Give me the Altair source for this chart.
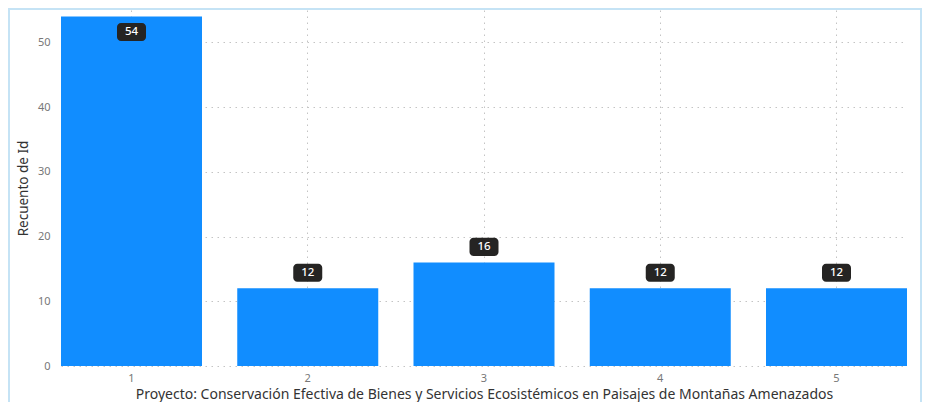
import altair as alt
import pandas as pd

categories = ["1", "2", "3", "4", "5"]
values = [54, 12, 16, 12, 12]

x_title = "Proyecto: Conservación Efectiva de Bienes y Servicios Ecosistémicos en Paisajes de Montañas Amenazados"
y_title = "Recuento de Id"

df = pd.DataFrame({"cat": categories, "v": values})

YMAX = 55
FONT = "Noto Sans"
GRID_DASH = [1.5, 4.5]
GRID_COLOR = "#c4c4c4"

x_enc = alt.X("cat:N", sort=categories, title=x_title,
              scale=alt.Scale(paddingInner=0.2, paddingOuter=0),
              axis=alt.Axis(labelAngle=0, grid=True, gridDash=GRID_DASH, gridColor=GRID_COLOR,
                            domain=False, ticks=False, labelPadding=6, labelColor="#777777",
                            labelFontSize=11, titleFontSize=14, titleFontWeight="normal",
                            titleColor="#333333", titlePadding=4, titleFont=FONT, labelFont=FONT))
y_scale = alt.Scale(domain=[0, YMAX], nice=False)

bars = alt.Chart(df).mark_bar(color="#118DFF").encode(
    x=x_enc,
    y=alt.Y("v:Q", title=y_title, scale=y_scale,
            axis=alt.Axis(values=[0, 10, 20, 30, 40, 50], grid=True, gridDash=GRID_DASH,
                          gridColor=GRID_COLOR, domain=False, ticks=False, labelPadding=11,
                          labelColor="#777777", labelFontSize=11, titleFontSize=13.5,
                          titleFontWeight="normal", titleColor="#333333", titlePadding=7,
                          titleFont=FONT, labelFont=FONT)),
)

lab = alt.Chart(df).transform_calculate(
    inside="datum.v + 4 > " + str(YMAX),
).transform_calculate(
    lo="datum.inside ? datum.v - 3.8 : datum.v + 1.0",
    hi="datum.inside ? datum.v - 1.0 : datum.v + 3.8",
    mid="datum.inside ? datum.v - 2.4 : datum.v + 2.4",
)

boxes = lab.mark_bar(color="#252423", width=29, cornerRadius=4).encode(
    x=alt.X("cat:N", sort=categories),
    y=alt.Y("lo:Q", scale=y_scale),
    y2="hi:Q",
)

texts = lab.mark_text(color="white", fontSize=11.5, font=FONT, fontWeight=500,
                      baseline="middle").encode(
    x=alt.X("cat:N", sort=categories),
    y=alt.Y("mid:Q", scale=y_scale),
    text="v:Q",
)

border = alt.Chart(df).mark_rect(fill=None, stroke="#c5e3f5", strokeWidth=2, clip=False).encode(
    x=alt.value(-52), x2=alt.value(860), y=alt.value(-1), y2=alt.value(420)
)

chart = alt.layer(border, bars, boxes, texts).properties(
    width=846, height=356,
    autosize=alt.AutoSizeParams(type="none"),
    padding={"left": 53, "top": 2, "right": 15, "bottom": 36},
).configure_view(stroke=None)

chart.save("out.html", embed_options={"renderer": "svg", "actions": False})
